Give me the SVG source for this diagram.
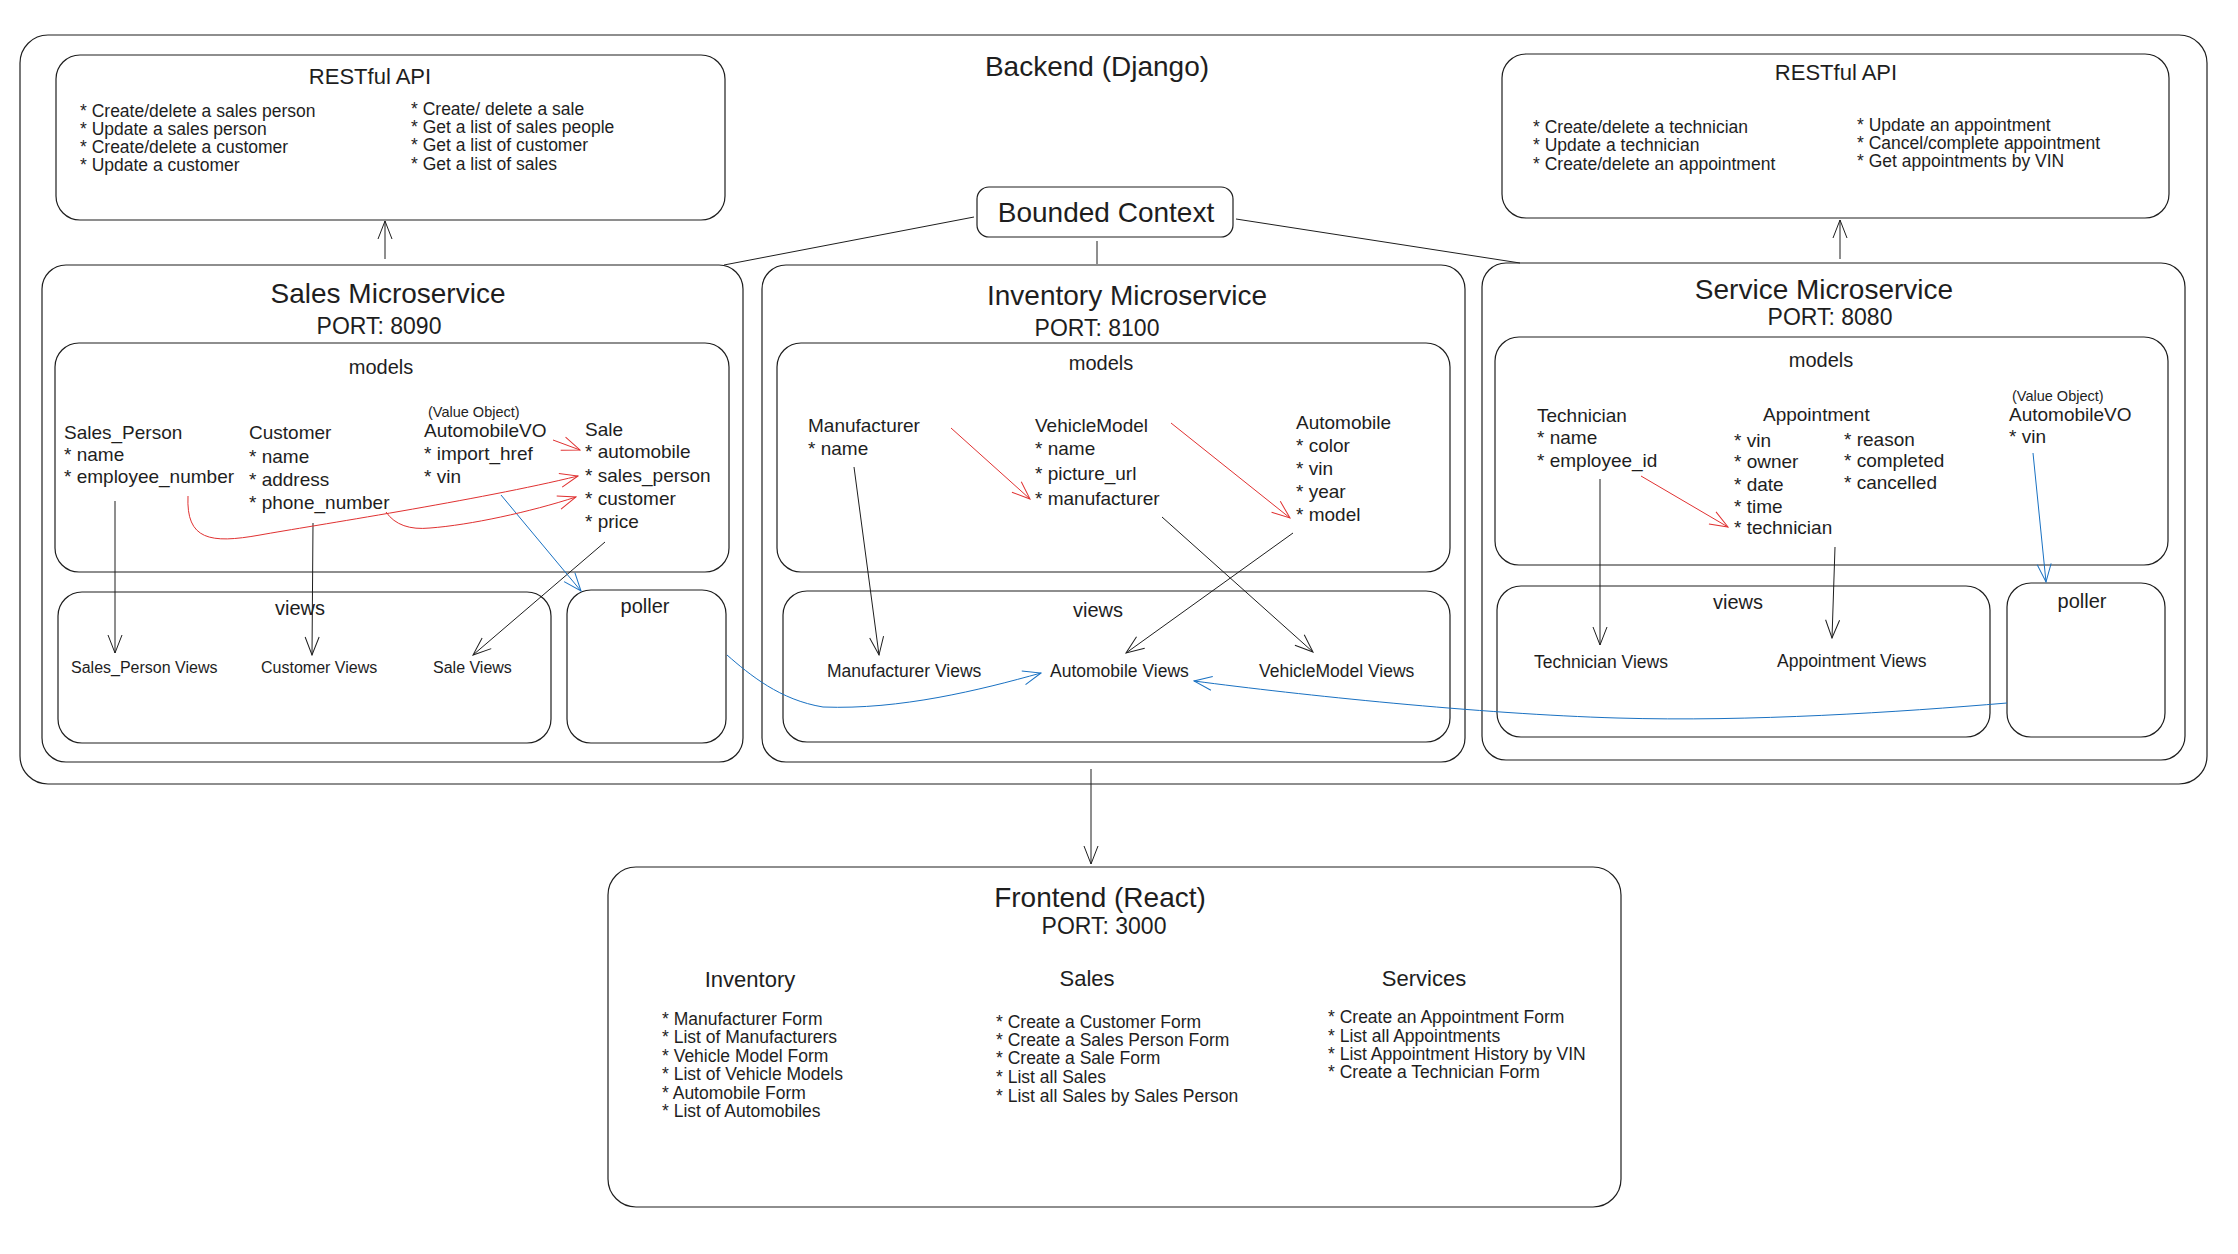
<svg xmlns="http://www.w3.org/2000/svg" width="2238" height="1254" viewBox="0 0 2238 1254">
<defs>
<style>
text{font-family:"Liberation Sans",Arial,sans-serif;fill:#1e1e1e}
.box{fill:none;stroke:#1e1e1e;stroke-width:1.2}
.t28{font-size:28px}
.t23{font-size:23px}
.t22{font-size:22px}
.t20{font-size:20px}
.f{font-size:19px}
.b{font-size:17.5px}
.v{font-size:16px}
.s{font-size:14.5px}
.m{text-anchor:middle}
.c{fill:none;stroke:#1e1e1e;stroke-width:1}
.r{fill:none;stroke:#e03131;stroke-width:1}
.bl{fill:none;stroke:#1971c2;stroke-width:1}
.ak{marker-end:url(#ak)}
.ar{marker-end:url(#ar)}
.ab{marker-end:url(#ab)}
</style>
<marker id="ak" viewBox="0 0 20 16" refX="19" refY="8" markerWidth="20" markerHeight="16" markerUnits="userSpaceOnUse" orient="auto"><path d="M1,1 L19,8 L1,15" fill="none" stroke="#1e1e1e" stroke-width="1"/></marker>
<marker id="ar" viewBox="0 0 20 16" refX="19" refY="8" markerWidth="20" markerHeight="16" markerUnits="userSpaceOnUse" orient="auto"><path d="M1,1 L19,8 L1,15" fill="none" stroke="#e03131" stroke-width="1"/></marker>
<marker id="ab" viewBox="0 0 20 16" refX="19" refY="8" markerWidth="20" markerHeight="16" markerUnits="userSpaceOnUse" orient="auto"><path d="M1,1 L19,8 L1,15" fill="none" stroke="#1971c2" stroke-width="1"/></marker>
</defs>
<rect width="2238" height="1254" fill="#ffffff"/>

<g id="backend">
<rect class="box" x="20" y="35" width="2187" height="749" rx="28"/>
<text class="t28 m" x="1097" y="76">Backend (Django)</text>
</g>

<g id="restful-sales">
<rect class="box" x="56" y="55" width="669" height="165" rx="24"/>
<text class="t22 m" x="370" y="84">RESTful API</text>
<text class="b" x="80" y="117">* Create/delete a sales person</text>
<text class="b" x="80" y="135">* Update a sales person</text>
<text class="b" x="80" y="153">* Create/delete a customer</text>
<text class="b" x="80" y="171">* Update a customer</text>
<text class="b" x="411" y="115">* Create/ delete a sale</text>
<text class="b" x="411" y="133">* Get a list of sales people</text>
<text class="b" x="411" y="151">* Get a list of customer</text>
<text class="b" x="411" y="170">* Get a list of sales</text>
</g>

<g id="restful-service">
<rect class="box" x="1502" y="54" width="667" height="164" rx="24"/>
<text class="t22 m" x="1836" y="80">RESTful API</text>
<text class="b" x="1533" y="133">* Create/delete a technician</text>
<text class="b" x="1533" y="151">* Update a technician</text>
<text class="b" x="1533" y="170">* Create/delete an appointment</text>
<text class="b" x="1857" y="131">* Update an appointment</text>
<text class="b" x="1857" y="149">* Cancel/complete appointment</text>
<text class="b" x="1857" y="167">* Get appointments by VIN</text>
</g>

<g id="bounded-context">
<rect class="box" x="977" y="187" width="256" height="50" rx="12"/>
<text class="t28 m" x="1106" y="222">Bounded Context</text>
</g>

<g id="sales-microservice">
<rect class="box" x="42" y="265" width="701" height="497" rx="24"/>
<text class="t28 m" x="388" y="303">Sales Microservice</text>
<text class="t23 m" x="379" y="334">PORT: 8090</text>
</g>
<g id="sales-models">
<rect class="box" x="55" y="343" width="674" height="229" rx="24"/>
<text class="t20 m" x="381" y="374">models</text>
<text class="f" x="64" y="439">Sales_Person</text>
<text class="f" x="64" y="461">* name</text>
<text class="f" x="64" y="483">* employee_number</text>
<text class="f" x="249" y="439">Customer</text>
<text class="f" x="249" y="463">* name</text>
<text class="f" x="249" y="486">* address</text>
<text class="f" x="249" y="509">* phone_number</text>
<text class="s" x="428" y="417">(Value Object)</text>
<text class="f" x="424" y="437">AutomobileVO</text>
<text class="f" x="424" y="460">* import_href</text>
<text class="f" x="424" y="483">* vin</text>
<text class="f" x="585" y="436">Sale</text>
<text class="f" x="585" y="458">* automobile</text>
<text class="f" x="585" y="482">* sales_person</text>
<text class="f" x="585" y="505">* customer</text>
<text class="f" x="585" y="528">* price</text>
</g>
<g id="sales-views">
<rect class="box" x="58" y="592" width="493" height="151" rx="24"/>
<text class="t20 m" x="300" y="615">views</text>
<text class="v" x="71" y="673">Sales_Person Views</text>
<text class="v" x="261" y="673">Customer Views</text>
<text class="v" x="433" y="673">Sale Views</text>
</g>
<g id="sales-poller">
<rect class="box" x="567" y="590" width="159" height="153" rx="24"/>
<text class="t20 m" x="645" y="613">poller</text>
</g>

<g id="inventory-microservice">
<rect class="box" x="762" y="265" width="703" height="497" rx="24"/>
<text class="t28 m" x="1127" y="305">Inventory Microservice</text>
<text class="t23 m" x="1097" y="336">PORT: 8100</text>
</g>
<g id="inventory-models">
<rect class="box" x="777" y="343" width="673" height="229" rx="24"/>
<text class="t20 m" x="1101" y="370">models</text>
<text class="f" x="808" y="432">Manufacturer</text>
<text class="f" x="808" y="455">* name</text>
<text class="f" x="1035" y="432">VehicleModel</text>
<text class="f" x="1035" y="455">* name</text>
<text class="f" x="1035" y="480">* picture_url</text>
<text class="f" x="1035" y="505">* manufacturer</text>
<text class="f" x="1296" y="429">Automobile</text>
<text class="f" x="1296" y="452">* color</text>
<text class="f" x="1296" y="475">* vin</text>
<text class="f" x="1296" y="498">* year</text>
<text class="f" x="1296" y="521">* model</text>
</g>
<g id="inventory-views">
<rect class="box" x="783" y="591" width="667" height="151" rx="24"/>
<text class="t20 m" x="1098" y="617">views</text>
<text class="b" x="827" y="677">Manufacturer Views</text>
<text class="b" x="1050" y="677">Automobile Views</text>
<text class="b" x="1259" y="677">VehicleModel Views</text>
</g>

<g id="service-microservice">
<rect class="box" x="1482" y="263" width="703" height="497" rx="24"/>
<text class="t28 m" x="1824" y="299">Service Microservice</text>
<text class="t23 m" x="1830" y="325">PORT: 8080</text>
</g>
<g id="service-models">
<rect class="box" x="1495" y="337" width="673" height="228" rx="24"/>
<text class="t20 m" x="1821" y="367">models</text>
<text class="f" x="1537" y="422">Technician</text>
<text class="f" x="1537" y="444">* name</text>
<text class="f" x="1537" y="467">* employee_id</text>
<text class="f" x="1763" y="421">Appointment</text>
<text class="f" x="1734" y="447">* vin</text>
<text class="f" x="1734" y="468">* owner</text>
<text class="f" x="1734" y="491">* date</text>
<text class="f" x="1734" y="513">* time</text>
<text class="f" x="1734" y="534">* technician</text>
<text class="f" x="1844" y="446">* reason</text>
<text class="f" x="1844" y="467">* completed</text>
<text class="f" x="1844" y="489">* cancelled</text>
<text class="s" x="2012" y="401">(Value Object)</text>
<text class="f" x="2009" y="421">AutomobileVO</text>
<text class="f" x="2009" y="443">* vin</text>
</g>
<g id="service-views">
<rect class="box" x="1497" y="586" width="493" height="151" rx="24"/>
<text class="t20 m" x="1738" y="609">views</text>
<text class="b" x="1534" y="668">Technician Views</text>
<text class="b" x="1777" y="667">Appointment Views</text>
</g>
<g id="service-poller">
<rect class="box" x="2007" y="583" width="158" height="154" rx="24"/>
<text class="t20 m" x="2082" y="608">poller</text>
</g>

<g id="frontend">
<rect class="box" x="608" y="867" width="1013" height="340" rx="28"/>
<text class="t28 m" x="1100" y="907">Frontend (React)</text>
<text class="t23 m" x="1104" y="934">PORT: 3000</text>
<text class="t22 m" x="750" y="987">Inventory</text>
<text class="t22 m" x="1087" y="986">Sales</text>
<text class="t22 m" x="1424" y="986">Services</text>
<text class="b" x="662" y="1025">* Manufacturer Form</text>
<text class="b" x="662" y="1043">* List of Manufacturers</text>
<text class="b" x="662" y="1062">* Vehicle Model Form</text>
<text class="b" x="662" y="1080">* List of Vehicle Models</text>
<text class="b" x="662" y="1099">* Automobile Form</text>
<text class="b" x="662" y="1117">* List of Automobiles</text>
<text class="b" x="996" y="1028">* Create a Customer Form</text>
<text class="b" x="996" y="1046">* Create a Sales Person Form</text>
<text class="b" x="996" y="1064">* Create a Sale Form</text>
<text class="b" x="996" y="1083">* List all Sales</text>
<text class="b" x="996" y="1102">* List all Sales by Sales Person</text>
<text class="b" x="1328" y="1023">* Create an Appointment Form</text>
<text class="b" x="1328" y="1042">* List all Appointments</text>
<text class="b" x="1328" y="1060">* List Appointment History by VIN</text>
<text class="b" x="1328" y="1078">* Create a Technician Form</text>
</g>

<g id="connectors">
<path class="c ak" d="M385,259 L385,221"/>
<path class="c ak" d="M1840,259 L1840,220"/>
<path class="c" d="M974,217 L724,265"/>
<path class="c" d="M1097,241 L1097,264"/>
<path class="c" d="M1236,219 L1520,263"/>
<path class="c ak" d="M1091,769 L1091,864"/>
<path class="c ak" d="M115,501 L115,653"/>
<path class="c ak" d="M313,523 L312,655"/>
<path class="c ak" d="M605,542 L473,655"/>
<path class="bl ab" d="M501,495 L581,591"/>
<path class="r ar" d="M553,440 L580,450"/>
<path class="r ar" d="M188,496 C186,540 210,544 260,535 S480,500 578,476"/>
<path class="r ar" d="M386,512 C395,525 410,530 430,528 C470,525 530,512 576,497"/>
<path class="bl ab" d="M727,655 C750,675 780,700 823,707 C900,710 980,690 1041,673"/>
<path class="c ak" d="M854,467 L879,655"/>
<path class="c ak" d="M1162,517 L1313,652"/>
<path class="c ak" d="M1293,533 L1126,653"/>
<path class="r ar" d="M951,428 L1030,499"/>
<path class="r ar" d="M1171,423 L1290,518"/>
<path class="bl ab" d="M2007,703 C1900,712 1750,722 1617,718 C1480,714 1300,695 1194,681"/>
<path class="c ak" d="M1600,479 L1600,645"/>
<path class="c ak" d="M1835,547 L1832,638"/>
<path class="r ar" d="M1641,476 L1728,527"/>
<path class="bl ab" d="M2033,453 L2046,582"/>
</g>
</svg>
